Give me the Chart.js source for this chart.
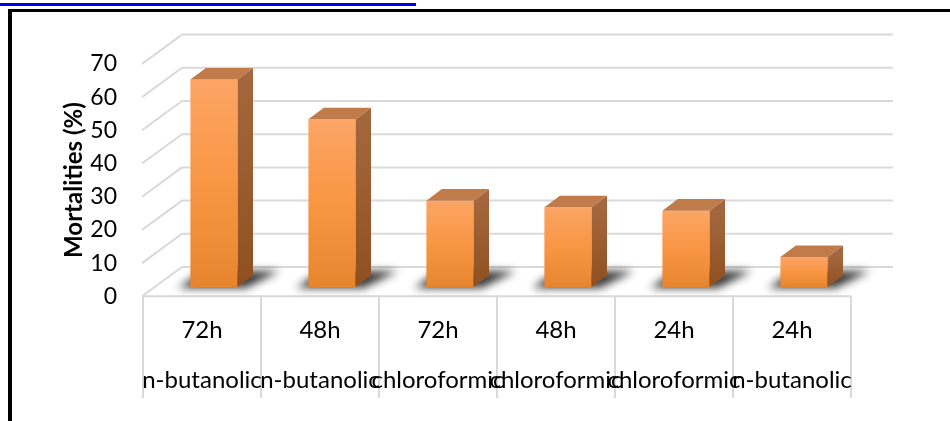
<!DOCTYPE html>
<html><head><meta charset="utf-8">
<script src="https://cdn.jsdelivr.net/npm/chart.js@4"></script>
<style>
html,body{margin:0;padding:0;background:#fff;overflow:hidden}
#wrap{position:relative;width:950px;height:421px}
#link{position:absolute;left:0;top:3px;width:416px;height:3px;background:#0000ee}
#topb{position:absolute;left:8px;top:9px;width:942px;height:3px;background:#000}
#leftb{position:absolute;left:8px;top:9px;width:4px;height:412px;background:#000}
canvas{position:absolute;left:0;top:0}
</style></head>
<body><div id="wrap"><canvas id="c" width="950" height="421"></canvas><div id="link"></div><div id="topb"></div><div id="leftb"></div></div>
<script>
const timeLabels = ['72h', '48h', '72h', '48h', '24h', '24h'];
const extractLabels = ['n-butanolic', 'n-butanolic', 'chloroformic', 'chloroformic', 'chloroformic', 'n-butanolic'];
const mortalities = [62.5, 50.5, 26, 24, 23, 9];
const yTicks = [0, 10, 20, 30, 40, 50, 60, 70];
const yTitle = 'Mortalities (%)';

const FRONT = {dx: -12, dy: 9.3};
const BACK = {dx: 27, dy: -20};
const DEPTH = {dx: 15.4, dy: -11.6};
const FONT = 'Lato, "Open Sans", sans-serif';

function frontGradient(context) {
  const chart = context.chart;
  if (!chart.chartArea || !chart.scales.y) return '#f79646';
  const y = chart.scales.y;
  const v = context.raw;
  const top = y.getPixelForValue(v), bot = y.getPixelForValue(0);
  const g = chart.ctx.createLinearGradient(0, top, 0, bot);
  g.addColorStop(0, '#fca565');
  g.addColorStop(0.5, '#f89643');
  g.addColorStop(1, '#e7852f');
  return g;
}

const bars3d = {
  id: 'bars3d',
  beforeDatasetsDraw(chart) {
    const {ctx, chartArea: a, scales: {x, y}} = chart;
    ctx.save();
    ctx.strokeStyle = '#d9d9d9';
    ctx.lineWidth = 2;
    yTicks.forEach(v => {
      const py = y.getPixelForValue(v);
      ctx.beginPath();
      ctx.moveTo(a.left + BACK.dx, py + BACK.dy);
      ctx.lineTo(a.right + BACK.dx + 3, py + BACK.dy);
      ctx.moveTo(a.left + FRONT.dx - 1, py + FRONT.dy);
      ctx.lineTo(a.left + BACK.dx, py + BACK.dy);
      ctx.stroke();
    });
    const y0 = y.getPixelForValue(0) + FRONT.dy;
    ctx.beginPath();
    ctx.moveTo(a.left + FRONT.dx - 1, y0);
    ctx.lineTo(a.right + FRONT.dx, y0);
    ctx.stroke();
    const catW = x.getPixelForValue(1) - x.getPixelForValue(0);
    for (let i = 0; i <= timeLabels.length; i++) {
      const px = x.getPixelForValue(0) + (i - 0.5) * catW + FRONT.dx;
      ctx.beginPath();
      ctx.moveTo(px, y0);
      ctx.lineTo(px, 398);
      ctx.stroke();
    }
    const meta = chart.getDatasetMeta(0);
    ctx.filter = 'blur(4px)';
    ctx.fillStyle = 'rgba(0,0,0,0.78)';
    meta.data.forEach(b => {
      const L = b.x - b.width / 2, R = b.x + b.width / 2, B = b.base;
      ctx.beginPath();
      ctx.moveTo(L - 12, B + 1);
      ctx.lineTo(R + 8, B + 1);
      ctx.lineTo(R + 42, B - 16);
      ctx.lineTo(L + 12, B - 16);
      ctx.closePath();
      ctx.fill();
    });
    ctx.filter = 'none';
    ctx.restore();
  },
  afterDatasetsDraw(chart) {
    const {ctx, chartArea: a, scales: {x, y}} = chart;
    const meta = chart.getDatasetMeta(0);
    ctx.save();
    meta.data.forEach(b => {
      const L = b.x - b.width / 2, R = b.x + b.width / 2, B = b.base, T = b.y;
      const gs = ctx.createLinearGradient(0, T, 0, B);
      gs.addColorStop(0, '#a4673d');
      gs.addColorStop(1, '#8f5020');
      ctx.fillStyle = gs;
      ctx.beginPath();
      ctx.moveTo(R, T);
      ctx.lineTo(R + DEPTH.dx, T + DEPTH.dy);
      ctx.lineTo(R + DEPTH.dx, B + DEPTH.dy);
      ctx.lineTo(R, B);
      ctx.closePath();
      ctx.fill();
      ctx.fillStyle = '#c07b4a';
      ctx.beginPath();
      ctx.moveTo(L, T);
      ctx.lineTo(L + DEPTH.dx, T + DEPTH.dy);
      ctx.lineTo(R + DEPTH.dx, T + DEPTH.dy);
      ctx.lineTo(R, T);
      ctx.closePath();
      ctx.fill();
    });
    ctx.fillStyle = '#000';
    ctx.font = '23px ' + FONT;
    ctx.textAlign = 'right';
    ctx.textBaseline = 'middle';
    yTicks.forEach(v => {
      ctx.fillText(String(v), 117, y.getPixelForValue(v) + FRONT.dy);
    });
    ctx.font = '24px ' + FONT;
    ctx.textAlign = 'center';
    ctx.textBaseline = 'alphabetic';
    timeLabels.forEach((t, i) => {
      const cx = x.getPixelForValue(i) + FRONT.dx;
      ctx.fillText(t, cx, 338);
      ctx.fillText(extractLabels[i], cx, 388);
    });
    const midY = (y.getPixelForValue(0) + y.getPixelForValue(70)) / 2 + FRONT.dy;
    ctx.translate(82, midY);
    ctx.rotate(-Math.PI / 2);
    ctx.font = 'bold 24px ' + FONT;
    ctx.fillText(yTitle, 0, 0);
    ctx.restore();
  }
};

new Chart(document.getElementById('c'), {
  type: 'bar',
  data: {
    labels: timeLabels.map((t, i) => [t, extractLabels[i]]),
    datasets: [{
      data: mortalities,
      backgroundColor: frontGradient,
      borderWidth: 0,
      barPercentage: 0.4,
      categoryPercentage: 1
    }]
  },
  options: {
    responsive: false,
    animation: false,
    layout: {padding: {left: 155, right: 87, top: 54.6, bottom: 134}},
    plugins: {legend: {display: false}, tooltip: {enabled: false}},
    scales: {
      x: {display: false},
      y: {display: false, min: 0, max: 70, ticks: {stepSize: 10}}
    }
  },
  plugins: [bars3d]
});
</script>
</body></html>
